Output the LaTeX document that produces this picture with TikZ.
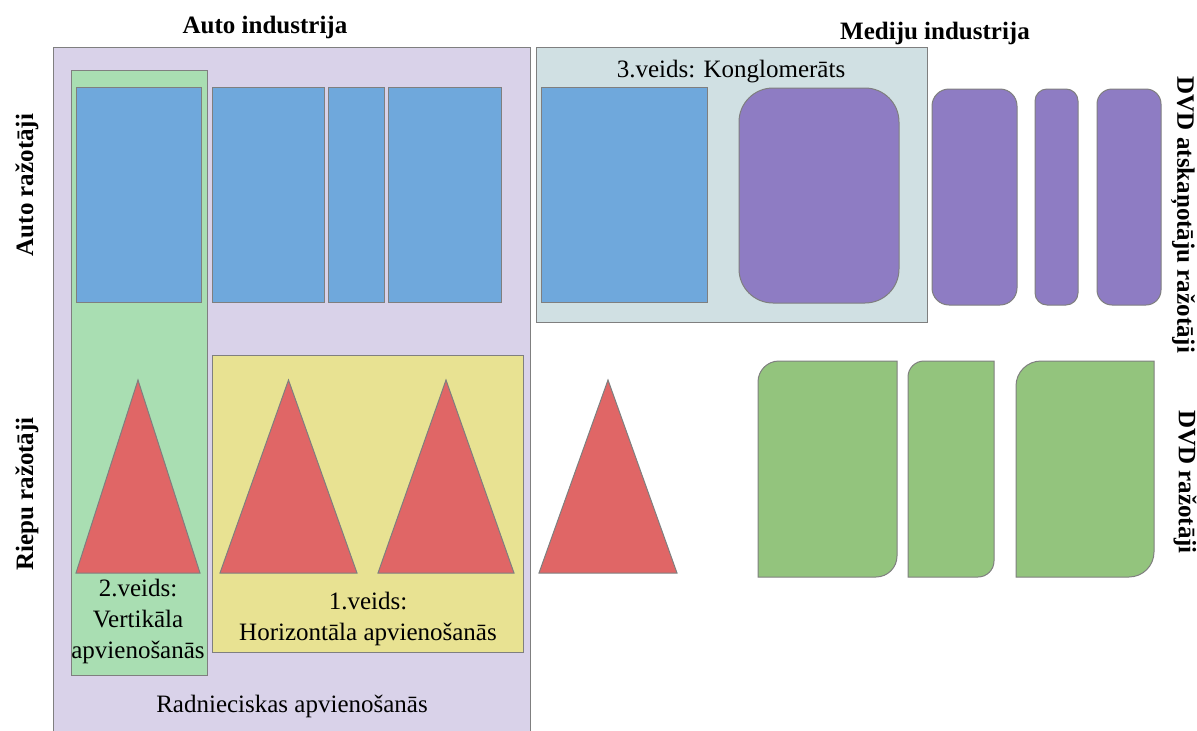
\documentclass[tikz,border=0pt]{standalone}
\usepackage{fontspec}
\setmainfont{Liberation Serif}
\definecolor{edgegray}{HTML}{7F7F7F}
\definecolor{lavender}{HTML}{D9D2E9}
\definecolor{conglo}{HTML}{D0E0E3}
\definecolor{vertgreen}{HTML}{A9DEB2}
\definecolor{horyellow}{HTML}{E8E292}
\definecolor{carblue}{HTML}{6FA8DC}
\definecolor{dvdpurple}{HTML}{8E7CC3}
\definecolor{tyrered}{HTML}{E06666}
\definecolor{dvdgreen}{HTML}{93C47D}
\begin{document}
\begin{tikzpicture}[x=1pt,y=-1pt,
    every node/.style={font=\fontsize{25}{31}\selectfont, align=center, inner sep=0pt},
    head/.style={font=\fontsize{25}{31}\selectfont\bfseries},
    box/.style={draw=edgegray, line width=1pt}]
  \useasboundingbox (0,0) rectangle (1197,731);

  % merger frames
  \draw[box, fill=lavender] (53,47) rectangle (530,745);
  \draw[box, fill=conglo] (536,47) rectangle (927,322);
  \draw[box, fill=vertgreen] (71,70) rectangle (207,675);
  \draw[box, fill=horyellow] (212,355) rectangle (523,652);

  % car makers
  \foreach \l/\r in {76/201,212/324,328/384,388/501,541/707} {
    \draw[box, fill=carblue] (\l,87) rectangle (\r,302);
  }

  % DVD player makers
  \draw[box, fill=dvdpurple, rounded corners=34pt] (739,88) rectangle (899,303);
  \foreach \l/\r/\rad in {932/1017/17,1035/1078/12,1097/1161/15} {
    \draw[box, fill=dvdpurple, rounded corners=\rad pt] (\l,89) rectangle (\r,305);
  }

  % tyre makers
  \foreach \l/\r in {76/200,220/357,378/514,539/677} {
    \draw[box, fill=tyrered] (\l,573) -- ({(\l+\r)/2},380) -- (\r,573) -- cycle;
  }

  % DVD makers
  \foreach \l/\r/\rad in {758/897/21,908/994/16,1016/1154/25} {
    \draw[box, fill=dvdgreen] (\l,577) -- (\l,{361+\rad})
      arc[start angle=180, end angle=270, radius=\rad] -- (\r,361)
      -- (\r,{577-\rad}) arc[start angle=0, end angle=90, radius=\rad] -- cycle;
  }

  % labels
  \node[head] (autoind) at (265,27) {Auto industrija};
  \node[head] (medind) at (935,33) {Mediju industrija};
  \node[head, rotate=90] (autoraz) at (27,185) {Auto ražotāji};
  \node[head, rotate=90] (riepraz) at (27,494) {Riepu ražotāji};
  \node[head, rotate=-90] (dvdatsk) at (1183,215) {DVD atskaņotāju ražotāji};
  \node[head, rotate=-90] (dvdraz) at (1185,482) {DVD ražotāji};
  \node (konglo) at (731,72) {3.veids: Konglomerāts};
  \node (vert) at (138,621) {2.veids:\\Vertikāla\\apvienošanās};
  \node (horiz) at (368,619) {1.veids:\\Horizontāla apvienošanās};
  \node (radn) at (292,706) {Radnieciskas apvienošanās};
\end{tikzpicture}
\end{document}
